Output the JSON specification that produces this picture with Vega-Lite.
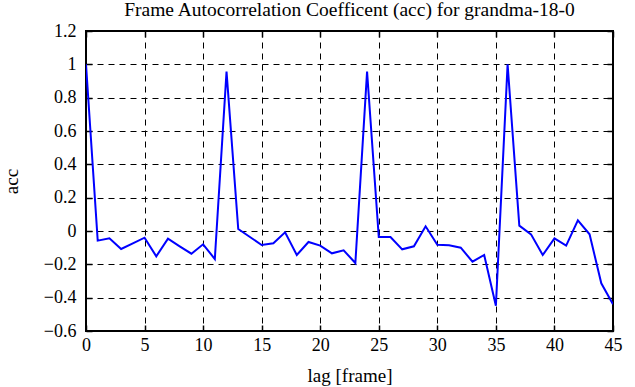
{
  "$schema": "https://vega.github.io/schema/vega-lite/v6.json",
  "width": 527,
  "height": 300,
  "autosize": {"type": "none"},
  "padding": {"left": 86, "top": 31, "right": 22, "bottom": 56},
  "background": "white",
  "config": {
    "font": "Liberation Serif",
    "view": {"stroke": "black", "strokeWidth": 2},
    "axis": {"labelFont": "Liberation Serif", "titleFont": "Liberation Serif", "labelFontSize": 18, "titleFontSize": 19, "titleFontWeight": "normal", "labelColor": "black", "titleColor": "black"}
  },
  "title": {"text": "Frame Autocorrelation Coefficent (acc) for grandma-18-0", "fontSize": 19.5, "font": "Liberation Serif", "fontWeight": "normal", "color": "black", "offset": 2},
  "data": {"values": [
    {"lag": 0, "acc": 1.0},
    {"lag": 1, "acc": -0.058},
    {"lag": 2, "acc": -0.044},
    {"lag": 3, "acc": -0.108},
    {"lag": 4, "acc": -0.074},
    {"lag": 5, "acc": -0.04},
    {"lag": 6, "acc": -0.152},
    {"lag": 7, "acc": -0.046},
    {"lag": 8, "acc": -0.092},
    {"lag": 9, "acc": -0.136},
    {"lag": 10, "acc": -0.08},
    {"lag": 11, "acc": -0.168},
    {"lag": 12, "acc": 0.956},
    {"lag": 13, "acc": 0.012},
    {"lag": 14, "acc": -0.036},
    {"lag": 15, "acc": -0.084},
    {"lag": 16, "acc": -0.074},
    {"lag": 17, "acc": -0.008},
    {"lag": 18, "acc": -0.144},
    {"lag": 19, "acc": -0.066},
    {"lag": 20, "acc": -0.088},
    {"lag": 21, "acc": -0.134},
    {"lag": 22, "acc": -0.116},
    {"lag": 23, "acc": -0.192},
    {"lag": 24, "acc": 0.956},
    {"lag": 25, "acc": -0.036},
    {"lag": 26, "acc": -0.036},
    {"lag": 27, "acc": -0.11},
    {"lag": 28, "acc": -0.092},
    {"lag": 29, "acc": 0.028},
    {"lag": 30, "acc": -0.082},
    {"lag": 31, "acc": -0.086},
    {"lag": 32, "acc": -0.1},
    {"lag": 33, "acc": -0.184},
    {"lag": 34, "acc": -0.144},
    {"lag": 35, "acc": -0.448},
    {"lag": 36, "acc": 1.0},
    {"lag": 37, "acc": 0.032},
    {"lag": 38, "acc": -0.02},
    {"lag": 39, "acc": -0.144},
    {"lag": 40, "acc": -0.044},
    {"lag": 41, "acc": -0.088},
    {"lag": 42, "acc": 0.064},
    {"lag": 43, "acc": -0.02},
    {"lag": 44, "acc": -0.314},
    {"lag": 45, "acc": -0.44}
  ]},
  "layer": [
    {
      "mark": {"type": "line", "color": "#0000ff", "strokeWidth": 2, "clip": true},
      "encoding": {
        "x": {"field": "lag", "type": "quantitative", "scale": {"domain": [0, 45], "nice": false, "zero": false},
              "axis": {"orient": "bottom", "title": "lag [frame]", "values": [0,5,10,15,20,25,30,35,40,45], "format": "~g", "labelFont": "Liberation Serif", "labelFontSize": 18, "domain": false, "tickColor": "black", "tickSize": -6, "tickWidth": 1.5, "labelPadding": 11, "titlePadding": 12, "labelFlush": false,
                       "grid": true, "gridColor": "black", "gridDash": [6, 5], "gridWidth": 1, "gridOpacity": 1}},
        "y": {"field": "acc", "type": "quantitative", "scale": {"domain": [-0.6, 1.2], "nice": false, "zero": false},
              "axis": {"orient": "left", "title": "acc", "values": [-0.6,-0.4,-0.2,0,0.2,0.4,0.6,0.8,1,1.2], "format": "~g", "labelFont": "Liberation Serif", "labelFontSize": 18, "domain": false, "tickColor": "black", "tickSize": -6, "tickWidth": 1.5, "labelPadding": 16, "titlePadding": 22, "labelFlush": false,
                       "grid": true, "gridColor": "black", "gridDash": [6, 5], "gridWidth": 1, "gridOpacity": 1}}
      }
    },
    {
      "mark": {"type": "line", "strokeOpacity": 0},
      "encoding": {
        "x": {"field": "lag", "type": "quantitative",
              "axis": {"orient": "top", "title": null, "labels": false, "values": [0,5,10,15,20,25,30,35,40,45], "domain": false, "tickColor": "black", "tickSize": -6, "tickWidth": 1.5, "grid": false}},
        "y": {"field": "acc", "type": "quantitative",
              "axis": {"orient": "right", "title": null, "labels": false, "values": [-0.6,-0.4,-0.2,0,0.2,0.4,0.6,0.8,1,1.2], "domain": false, "tickColor": "black", "tickSize": -6, "tickWidth": 1.5, "grid": false}}
      }
    }
  ]
}
